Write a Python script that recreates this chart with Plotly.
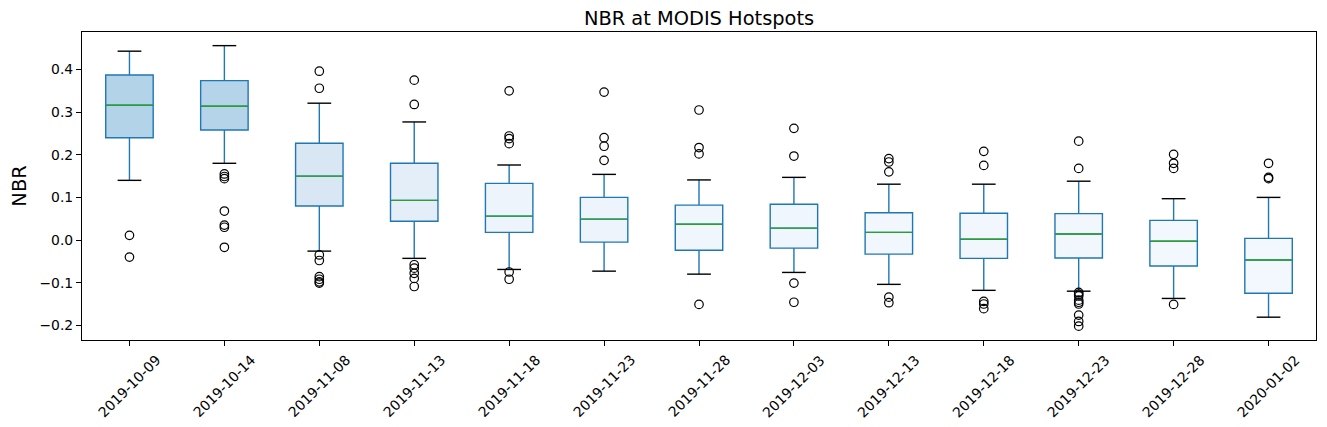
import plotly.graph_objects as go

dates = ["2019-10-09", "2019-10-14", "2019-11-08", "2019-11-13", "2019-11-18",
         "2019-11-23", "2019-11-28", "2019-12-03", "2019-12-13", "2019-12-18",
         "2019-12-23", "2019-12-28", "2020-01-02"]

upper_whisker = [0.443, 0.456, 0.321, 0.277, 0.176, 0.154, 0.141, 0.147, 0.131, 0.131, 0.138, 0.097, 0.100]
q3 = [0.387, 0.374, 0.227, 0.180, 0.133, 0.100, 0.082, 0.084, 0.064, 0.063, 0.062, 0.046, 0.004]
median = [0.316, 0.314, 0.150, 0.093, 0.056, 0.049, 0.037, 0.028, 0.018, 0.002, 0.014, -0.003, -0.047]
q1 = [0.240, 0.258, 0.080, 0.044, 0.018, -0.005, -0.024, -0.019, -0.033, -0.043, -0.042, -0.061, -0.125]
lower_whisker = [0.140, 0.180, -0.026, -0.043, -0.069, -0.073, -0.080, -0.076, -0.104, -0.118, -0.120, -0.137, -0.181]

outliers = [
    [0.011, -0.040],
    [0.155, 0.149, 0.144, 0.068, 0.035, 0.030, -0.017],
    [0.396, 0.356, -0.035, -0.048, -0.086, -0.092, -0.098, -0.101],
    [0.375, 0.318, -0.058, -0.066, -0.078, -0.090, -0.109],
    [0.350, 0.244, 0.238, 0.226, -0.075, -0.092],
    [0.347, 0.240, 0.220, 0.187],
    [0.305, 0.217, 0.202, -0.151],
    [0.262, 0.197, -0.101, -0.146],
    [0.191, 0.183, 0.160, -0.134, -0.147],
    [0.208, 0.175, -0.144, -0.150, -0.161],
    [0.232, 0.168, -0.123, -0.127, -0.131, -0.141, -0.146, -0.150, -0.176, -0.191, -0.202],
    [0.201, 0.180, 0.168, -0.151],
    [0.180, 0.147, 0.144],
]

fill_colors = ["#b3d3e8", "#b5d4e9", "#d9e7f5", "#e3eef8", "#edf4fc", "#edf4fc", "#eff6fc",
               "#f0f6fd", "#f1f7fd", "#f2f7fd", "#f1f7fd", "#f2f8fd", "#f3f8fe"]

positions = list(range(1, len(dates) + 1))
BOX_W = 0.5
CAP_W = 0.25
FONT = "DejaVu Sans"

fig = go.Figure()

for p, lo, a, m, b, hi, c in zip(positions, lower_whisker, q1, median, q3, upper_whisker, fill_colors):
    fig.add_trace(go.Box(
        x=[p], q1=[a], median=[m], q3=[b], lowerfence=[lo], upperfence=[hi],
        width=BOX_W, whiskerwidth=0, fillcolor=c,
        line=dict(color="#1f77b4", width=1.4),
        boxpoints=False, showlegend=False, hoverinfo="skip",
    ))

# caps (black)
cx, cy = [], []
for p, lo, hi in zip(positions, lower_whisker, upper_whisker):
    for v in (lo, hi):
        cx += [p - CAP_W / 2, p + CAP_W / 2, None]
        cy += [v, v, None]
fig.add_trace(go.Scatter(x=cx, y=cy, mode="lines", line=dict(color="black", width=1.4),
                         showlegend=False, hoverinfo="skip"))

# medians (green)
mx, my = [], []
for p, m in zip(positions, median):
    mx += [p - BOX_W / 2 + 0.01, p + BOX_W / 2 - 0.01, None]
    my += [m, m, None]
fig.add_trace(go.Scatter(x=mx, y=my, mode="lines", line=dict(color="#2ca02c", width=1.4),
                         showlegend=False, hoverinfo="skip"))

# outliers
ox, oy = [], []
for p, vals in zip(positions, outliers):
    ox += [p] * len(vals)
    oy += vals
fig.add_trace(go.Scatter(x=ox, y=oy, mode="markers",
                         marker=dict(symbol="circle-open", size=8.5, color="black", line=dict(width=1.2)),
                         showlegend=False, hoverinfo="skip"))

for p, d in zip(positions, dates):
    fig.add_annotation(x=p, xref="x", y=0, yref="paper", yanchor="top", xanchor="center",
                       yshift=-9, text=d, textangle=-45, showarrow=False,
                       font=dict(family=FONT, size=13.9, color="black"))

# page body has an 8px margin: the figure is drawn from (8, 8)
fig.update_layout(
    width=1319, height=419,
    margin=dict(l=70, r=10, t=24, b=87),
    paper_bgcolor="white", plot_bgcolor="white",
    font=dict(family=FONT, size=13.9, color="black"),
    title=dict(text="NBR at MODIS Hotspots", x=0.5, xref="paper", xanchor="center",
               y=1 - 10 / 419, yref="container", yanchor="middle",
               font=dict(family=FONT, size=19.4, color="black")),
    xaxis=dict(range=[0.5, len(dates) + 0.5], tickvals=positions, showticklabels=False,
               ticks="outside", ticklen=5, tickwidth=1, tickcolor="black",
               showline=True, mirror=True, linecolor="black", linewidth=1.1,
               showgrid=False, zeroline=False),
    yaxis=dict(range=[-0.2345, 0.488], tickvals=[-0.2, -0.1, 0.0, 0.1, 0.2, 0.3, 0.4],
               tickformat=".1f", ticks="outside", ticklen=5, tickwidth=1, tickcolor="black",
               showline=True, mirror=True, linecolor="black", linewidth=1.1,
               showgrid=False, zeroline=False,
               title=dict(text="NBR", font=dict(family=FONT, size=19.4, color="black"), standoff=8)),
)

fig.write_html("out.html")
